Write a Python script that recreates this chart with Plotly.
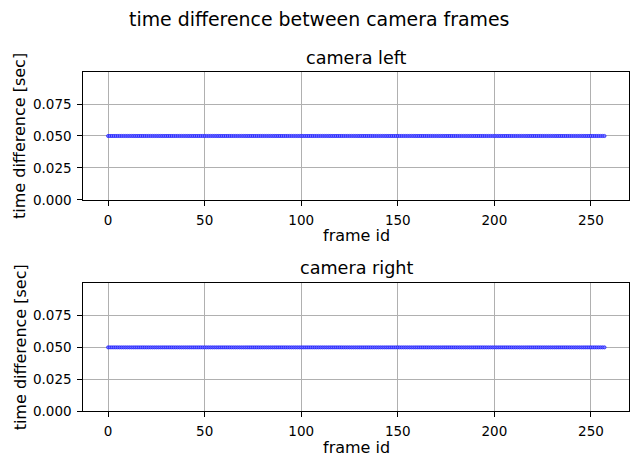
import plotly.graph_objects as go

# ---- data ----
frame_ids = list(range(258))
left_dt = [
    0.05, 0.05, 0.05, 0.05, 0.05, 0.05, 0.05, 0.05, 0.05, 0.05, 0.05, 0.05, 0.05, 0.05, 0.05, 0.05, 0.05, 0.05, 0.05, 0.05,
    0.05, 0.05, 0.05, 0.05, 0.05, 0.05, 0.05, 0.05, 0.05, 0.05, 0.05, 0.05, 0.05, 0.05, 0.05, 0.05, 0.05, 0.05, 0.05, 0.05,
    0.05, 0.05, 0.05, 0.05, 0.05, 0.05, 0.05, 0.05, 0.05, 0.05, 0.05, 0.05, 0.05, 0.05, 0.05, 0.05, 0.05, 0.05, 0.05, 0.05,
    0.05, 0.05, 0.05, 0.05, 0.05, 0.05, 0.05, 0.05, 0.05, 0.05, 0.05, 0.05, 0.05, 0.05, 0.05, 0.05, 0.05, 0.05, 0.05, 0.05,
    0.05, 0.05, 0.05, 0.05, 0.05, 0.05, 0.05, 0.05, 0.05, 0.05, 0.05, 0.05, 0.05, 0.05, 0.05, 0.05, 0.05, 0.05, 0.05, 0.05,
    0.05, 0.05, 0.05, 0.05, 0.05, 0.05, 0.05, 0.05, 0.05, 0.05, 0.05, 0.05, 0.05, 0.05, 0.05, 0.05, 0.05, 0.05, 0.05, 0.05,
    0.05, 0.05, 0.05, 0.05, 0.05, 0.05, 0.05, 0.05, 0.05, 0.05, 0.05, 0.05, 0.05, 0.05, 0.05, 0.05, 0.05, 0.05, 0.05, 0.05,
    0.05, 0.05, 0.05, 0.05, 0.05, 0.05, 0.05, 0.05, 0.05, 0.05, 0.05, 0.05, 0.05, 0.05, 0.05, 0.05, 0.05, 0.05, 0.05, 0.05,
    0.05, 0.05, 0.05, 0.05, 0.05, 0.05, 0.05, 0.05, 0.05, 0.05, 0.05, 0.05, 0.05, 0.05, 0.05, 0.05, 0.05, 0.05, 0.05, 0.05,
    0.05, 0.05, 0.05, 0.05, 0.05, 0.05, 0.05, 0.05, 0.05, 0.05, 0.05, 0.05, 0.05, 0.05, 0.05, 0.05, 0.05, 0.05, 0.05, 0.05,
    0.05, 0.05, 0.05, 0.05, 0.05, 0.05, 0.05, 0.05, 0.05, 0.05, 0.05, 0.05, 0.05, 0.05, 0.05, 0.05, 0.05, 0.05, 0.05, 0.05,
    0.05, 0.05, 0.05, 0.05, 0.05, 0.05, 0.05, 0.05, 0.05, 0.05, 0.05, 0.05, 0.05, 0.05, 0.05, 0.05, 0.05, 0.05, 0.05, 0.05,
    0.05, 0.05, 0.05, 0.05, 0.05, 0.05, 0.05, 0.05, 0.05, 0.05, 0.05, 0.05, 0.05, 0.05, 0.05, 0.05, 0.05, 0.05,
]
right_dt = [
    0.05, 0.05, 0.05, 0.05, 0.05, 0.05, 0.05, 0.05, 0.05, 0.05, 0.05, 0.05, 0.05, 0.05, 0.05, 0.05, 0.05, 0.05, 0.05, 0.05,
    0.05, 0.05, 0.05, 0.05, 0.05, 0.05, 0.05, 0.05, 0.05, 0.05, 0.05, 0.05, 0.05, 0.05, 0.05, 0.05, 0.05, 0.05, 0.05, 0.05,
    0.05, 0.05, 0.05, 0.05, 0.05, 0.05, 0.05, 0.05, 0.05, 0.05, 0.05, 0.05, 0.05, 0.05, 0.05, 0.05, 0.05, 0.05, 0.05, 0.05,
    0.05, 0.05, 0.05, 0.05, 0.05, 0.05, 0.05, 0.05, 0.05, 0.05, 0.05, 0.05, 0.05, 0.05, 0.05, 0.05, 0.05, 0.05, 0.05, 0.05,
    0.05, 0.05, 0.05, 0.05, 0.05, 0.05, 0.05, 0.05, 0.05, 0.05, 0.05, 0.05, 0.05, 0.05, 0.05, 0.05, 0.05, 0.05, 0.05, 0.05,
    0.05, 0.05, 0.05, 0.05, 0.05, 0.05, 0.05, 0.05, 0.05, 0.05, 0.05, 0.05, 0.05, 0.05, 0.05, 0.05, 0.05, 0.05, 0.05, 0.05,
    0.05, 0.05, 0.05, 0.05, 0.05, 0.05, 0.05, 0.05, 0.05, 0.05, 0.05, 0.05, 0.05, 0.05, 0.05, 0.05, 0.05, 0.05, 0.05, 0.05,
    0.05, 0.05, 0.05, 0.05, 0.05, 0.05, 0.05, 0.05, 0.05, 0.05, 0.05, 0.05, 0.05, 0.05, 0.05, 0.05, 0.05, 0.05, 0.05, 0.05,
    0.05, 0.05, 0.05, 0.05, 0.05, 0.05, 0.05, 0.05, 0.05, 0.05, 0.05, 0.05, 0.05, 0.05, 0.05, 0.05, 0.05, 0.05, 0.05, 0.05,
    0.05, 0.05, 0.05, 0.05, 0.05, 0.05, 0.05, 0.05, 0.05, 0.05, 0.05, 0.05, 0.05, 0.05, 0.05, 0.05, 0.05, 0.05, 0.05, 0.05,
    0.05, 0.05, 0.05, 0.05, 0.05, 0.05, 0.05, 0.05, 0.05, 0.05, 0.05, 0.05, 0.05, 0.05, 0.05, 0.05, 0.05, 0.05, 0.05, 0.05,
    0.05, 0.05, 0.05, 0.05, 0.05, 0.05, 0.05, 0.05, 0.05, 0.05, 0.05, 0.05, 0.05, 0.05, 0.05, 0.05, 0.05, 0.05, 0.05, 0.05,
    0.05, 0.05, 0.05, 0.05, 0.05, 0.05, 0.05, 0.05, 0.05, 0.05, 0.05, 0.05, 0.05, 0.05, 0.05, 0.05, 0.05, 0.05,
]
x_ticks = [0, 50, 100, 150, 200, 250]
y_ticks = [0.0, 0.025, 0.05, 0.075]
y_tick_text = ["0.000", "0.025", "0.050", "0.075"]

suptitle = "time difference between camera frames"
titles = ["camera left", "camera right"]
x_label = "frame id"
y_label = "time difference [sec]"

W, H = 638, 475
FONT = "DejaVu Sans"

fig = go.Figure()

for i, ys in enumerate([left_dt, right_dt]):
    ax = "" if i == 0 else "2"
    fig.add_trace(go.Scatter(
        x=frame_ids, y=ys, mode="lines+markers",
        line=dict(color="blue", width=0.8),
        marker=dict(color="#7a7aff", size=3.2, line=dict(color="blue", width=0.6)),
        xaxis="x" + ax, yaxis="y" + ax, showlegend=False, hoverinfo="skip",
    ))

xdom = [83.3 / W, 629.3 / W]
ydoms = [[1 - 203.3 / H, 1 - 73.3 / H], [1 - 418.3 / H, 1 - 288.3 / H]]

axis_common = dict(
    showline=True, linecolor="black", linewidth=1, mirror=True,
    ticks="outside", ticklen=5, tickwidth=1, tickcolor="black",
    showgrid=True, gridcolor="#b0b0b0", gridwidth=0.8, zeroline=False,
    tickfont=dict(family=FONT, size=13.5, color="black"),
    ticklabelstandoff=3,
)

layout = dict(
    width=W, height=H, margin=dict(l=0, r=0, t=0, b=0),
    paper_bgcolor="white", plot_bgcolor="white",
    font=dict(family=FONT, color="black"),
)
for i in range(2):
    ax = "" if i == 0 else "2"
    layout["xaxis" + ax] = dict(
        axis_common, domain=xdom, range=[-12.85, 269.85],
        tickvals=x_ticks, anchor="y" + ax,
    )
    layout["yaxis" + ax] = dict(
        axis_common, domain=ydoms[i], range=[0, 0.1],
        tickvals=y_ticks, ticktext=y_tick_text, anchor="x" + ax,
    )
fig.update_layout(**layout)

ann = []
ann.append(dict(text=suptitle, x=0.5, y=1 - 19 / H, xref="paper", yref="paper",
                showarrow=False, font=dict(family=FONT, size=18.9), xanchor="center", yanchor="middle"))
title_y = [59, 273]
xlabel_y = [240, 455]
for i in range(2):
    ann.append(dict(text=titles[i], x=(xdom[0] + xdom[1]) / 2, y=1 - title_y[i] / H,
                    xref="paper", yref="paper", showarrow=False,
                    font=dict(family=FONT, size=17.6), xanchor="center", yanchor="middle"))
    ann.append(dict(text=x_label, x=(xdom[0] + xdom[1]) / 2, y=1 - xlabel_y[i] / H,
                    xref="paper", yref="paper", showarrow=False,
                    font=dict(family=FONT, size=16), xanchor="center", yanchor="middle"))
    ann.append(dict(text=y_label, x=20 / W, y=(ydoms[i][0] + ydoms[i][1]) / 2,
                    xref="paper", yref="paper", showarrow=False, textangle=-90,
                    font=dict(family=FONT, size=16), xanchor="center", yanchor="middle"))
fig.update_layout(annotations=ann)

fig.write_html("out.html")
